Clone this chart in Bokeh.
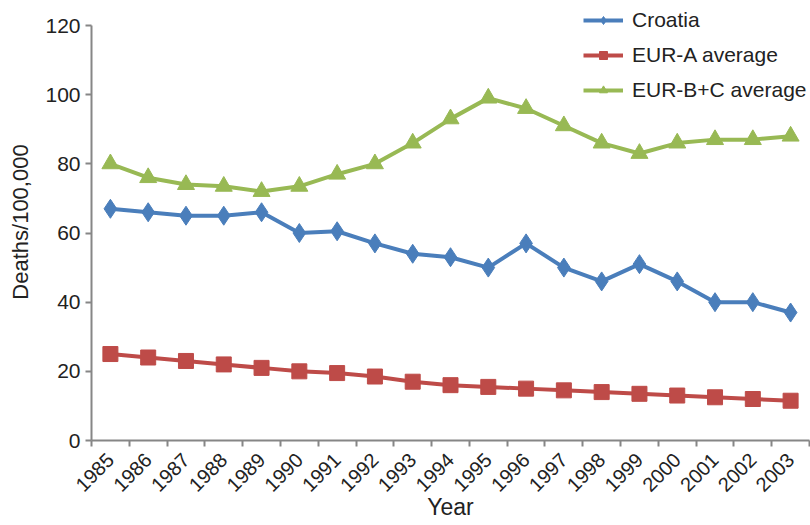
import math
from bokeh.plotting import figure
from bokeh.models import FixedTicker, Range1d, Legend, LegendItem, ColumnDataSource
from bokeh.embed import file_html
from bokeh.resources import INLINE

years = list(range(1985, 2004))
croatia = [67, 66, 65, 65, 66, 60, 60.5, 57, 54, 53, 50, 57, 50, 46, 51, 46, 40, 40, 37]
eur_a = [25, 24, 23, 22, 21, 20, 19.5, 18.5, 17, 16, 15.5, 15, 14.5, 14, 13.5, 13, 12.5, 12, 11.5]
eur_bc = [80, 76, 74, 73.5, 72, 73.5, 77, 80, 86, 93, 99, 96, 91, 86, 83, 86, 87, 87, 88]
y_ticks = [0, 20, 40, 60, 80, 100, 120]

FONT = "Liberation Sans"
AXIS = "#868686"
TXT = "#222222"

# frame extends a little above the 120 mark so the legend is not clipped
TOP = 3
Y_END = 120 * (440 - TOP) / 415

p = figure(width=810, height=525, output_backend="svg", toolbar_location=None,
           x_range=Range1d(years[0] - 0.5, years[-1] + 0.5), y_range=Range1d(0, Y_END))
p.min_border_left = 91
p.min_border_right = 1
p.min_border_top = TOP
p.min_border_bottom = 85
p.outline_line_color = None
p.grid.visible = False
p.background_fill_color = "white"
p.border_fill_color = "white"

bounds = [y - 0.5 for y in years] + [years[-1] + 0.5]
p.xaxis.ticker = FixedTicker(ticks=years, minor_ticks=bounds)
p.xaxis.major_tick_line_color = None
p.xaxis.minor_tick_out = 6
p.xaxis.minor_tick_in = 0
p.xaxis.minor_tick_line_color = AXIS
p.xaxis.minor_tick_line_width = 2
p.xaxis.axis_line_color = AXIS
p.xaxis.axis_line_width = 2
p.xaxis.major_label_orientation = math.pi / 4
p.xaxis.major_label_text_font = FONT
p.xaxis.major_label_text_font_size = "20px"
p.xaxis.major_label_text_color = TXT
p.xaxis.major_label_standoff = 10
p.xaxis.axis_label = "Year"
p.xaxis.axis_label_text_font = FONT
p.xaxis.axis_label_text_font_size = "23px"
p.xaxis.axis_label_text_font_style = "normal"
p.xaxis.axis_label_text_color = TXT
p.xaxis.axis_label_standoff = -7

p.yaxis.ticker = FixedTicker(ticks=y_ticks)
p.yaxis.bounds = (0, 120)
p.yaxis.minor_tick_line_color = None
p.yaxis.major_tick_out = 6
p.yaxis.major_tick_in = 0
p.yaxis.major_tick_line_color = AXIS
p.yaxis.major_tick_line_width = 2
p.yaxis.axis_line_color = AXIS
p.yaxis.axis_line_width = 2
p.yaxis.major_label_text_font = FONT
p.yaxis.major_label_text_font_size = "21px"
p.yaxis.major_label_text_color = TXT
p.yaxis.major_label_standoff = 5
p.yaxis.axis_label = "Deaths/100,000"
p.yaxis.axis_label_text_font = FONT
p.yaxis.axis_label_text_font_size = "22px"
p.yaxis.axis_label_text_font_style = "normal"
p.yaxis.axis_label_text_color = TXT
p.yaxis.axis_label_standoff = 9

src = ColumnDataSource(dict(year=years, croatia=croatia, eur_a=eur_a, eur_bc=eur_bc))

BLUE = "#4a7ebb"
RED = "#be4b48"
GREEN = "#98b954"

l1 = p.line("year", "croatia", source=src, line_color=BLUE, line_width=4)
m1 = p.scatter("year", "croatia", source=src, marker="diamond", size=19, fill_color=BLUE, line_color=BLUE)
l2 = p.line("year", "eur_a", source=src, line_color=RED, line_width=4)
m2 = p.scatter("year", "eur_a", source=src, marker="square", size=15, fill_color=RED, line_color=RED)
l3 = p.line("year", "eur_bc", source=src, line_color=GREEN, line_width=4)
m3 = p.scatter("year", "eur_bc", source=src, marker="triangle", size=17, fill_color=GREEN, line_color=GREEN)

legend = Legend(items=[
    LegendItem(label="Croatia", renderers=[l1, m1]),
    LegendItem(label="EUR-A average", renderers=[l2, m2]),
    LegendItem(label="EUR-B+C average", renderers=[l3, m3]),
], location=(492, 338))
legend.border_line_color = None
legend.background_fill_alpha = 0
legend.label_text_font = FONT
legend.label_text_font_size = "21px"
legend.label_text_color = TXT
legend.glyph_width = 40
legend.glyph_height = 20
legend.label_standoff = 9
legend.spacing = 11
legend.padding = 0
legend.margin = 0
legend.label_height = 24
p.add_layout(legend, "center")

open("out.html", "w").write(file_html(p, INLINE))
